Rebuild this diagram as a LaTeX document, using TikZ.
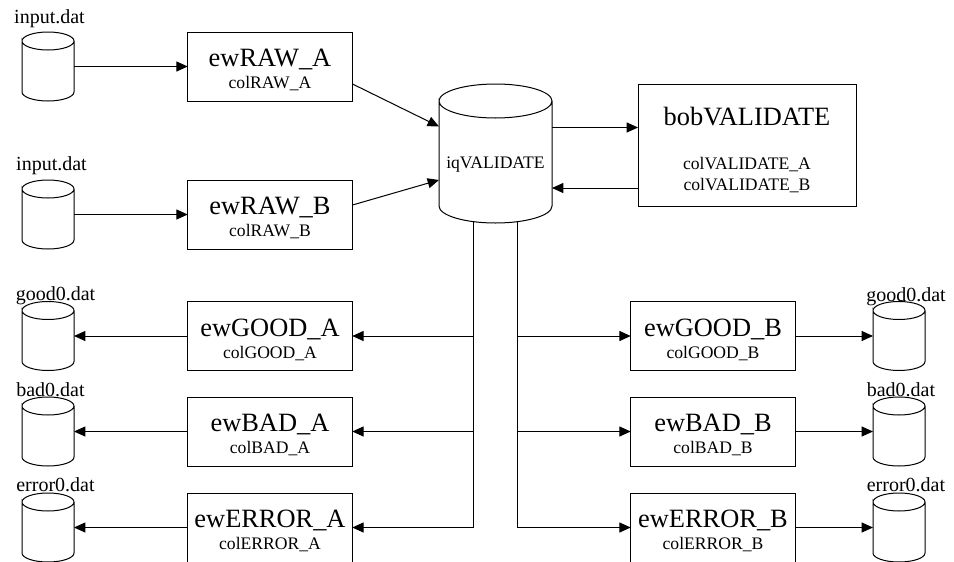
\documentclass[tikz,border=0pt]{standalone}
\usepackage{fontspec}
\setmainfont{Liberation Serif}
\usetikzlibrary{arrows.meta}
\newcommand{\bigtxt}{\fontsize{19.8}{20}\selectfont}
\newcommand{\smalltxt}{\fontsize{13.2}{16.5}\selectfont}
\newcommand{\labtxt}{\fontsize{15}{15}\selectfont}
\newcommand{\boxlabel}[2]{{\bigtxt\rule{0pt}{19.9pt}#1}\\{\smalltxt #2\rule[-3pt]{0pt}{3pt}}}
% name, x, y, half width, half height, cap radius, text
\newcommand{\drum}[7]{%
  \node[drumframe,minimum width=#4*1.5pt,minimum height=#5*1.5pt] (#1) at (#2,#3) {#7};
  \draw[line] ([yshift=-#6*0.75pt]#1.north west) arc[start angle=180,end angle=0,x radius=#4*0.75pt,y radius=#6*0.75pt]
     arc[start angle=0,end angle=-180,x radius=#4*0.75pt,y radius=#6*0.75pt]
     -- ([yshift=#6*0.75pt]#1.south west) arc[start angle=180,end angle=360,x radius=#4*0.75pt,y radius=#6*0.75pt]
     -- ([yshift=-#6*0.75pt]#1.north east);
}
\tikzset{
  x=0.75pt,y=-0.75pt,
  line/.style={draw=black,line width=0.75pt},
  arr/.style={line,-{Triangle[length=8.5pt,width=7.5pt]}},
  ewbox/.style={line,rectangle,minimum width=123.4pt,minimum height=51.75pt,inner sep=0pt,outer sep=0pt,align=center,text=black,font=\smalltxt},
  drumframe/.style={rectangle,inner sep=0pt,outer sep=0pt,font=\smalltxt},
  dat/.style={font=\labtxt,inner sep=0pt,anchor=base},
}
\begin{document}
\begin{tikzpicture}
\useasboundingbox (0,0) rectangle (954,561);
\clip (0,0) rectangle (954,561);
% stores
\drum{inA}{48}{66.5}{26}{34.5}{9}{}
\drum{inB}{48}{214.5}{26}{34.5}{9}{}
\drum{gA}{48}{336}{26}{34.5}{9}{}
\drum{bA}{48}{431.5}{26}{34.5}{9}{}
\drum{eA}{48}{527.5}{26}{34.5}{9}{}
\drum{gB}{899}{336}{26}{34.5}{9}{}
\drum{bB}{899}{431.5}{26}{34.5}{9}{}
\drum{eB}{899}{527.5}{26}{34.5}{9}{}
% file labels
\node[dat] (linA) at (49.5,23) {input.dat};
\node[dat] (linB) at (51.5,170) {input.dat};
\node[dat] (lgA) at (55.5,300.5) {good0.dat};
\node[dat] (lbA) at (50.5,396) {bad0.dat};
\node[dat] (leA) at (55.5,491) {error0.dat};
\node[dat] (lgB) at (906,301.5) {good0.dat};
\node[dat] (lbB) at (901,396) {bad0.dat};
\node[dat] (leB) at (906,491) {error0.dat};
% boxes
\node[ewbox] (rawA) at (270,66.5) {\boxlabel{ewRAW\_A}{colRAW\_A}};
\node[ewbox] (rawB) at (270,214.5) {\boxlabel{ewRAW\_B}{colRAW\_B}};
\node[ewbox] (goodA) at (270,336) {\boxlabel{ewGOOD\_A}{colGOOD\_A}};
\node[ewbox] (badA) at (270,431.5) {\boxlabel{ewBAD\_A}{colBAD\_A}};
\node[ewbox] (errA) at (270,527.5) {\boxlabel{ewERROR\_A}{colERROR\_A}};
\node[ewbox] (goodB) at (713,336) {\boxlabel{ewGOOD\_B}{colGOOD\_B}};
\node[ewbox] (badB) at (713,431.5) {\boxlabel{ewBAD\_B}{colBAD\_B}};
\node[ewbox] (errB) at (713,527.5) {\boxlabel{ewERROR\_B}{colERROR\_B}};
% queue and reader
\drum{iq}{495.5}{153.5}{56.5}{69.5}{17}{\raisebox{-10.9pt}[0pt][0pt]{iqVALIDATE}}
\node[line,rectangle,minimum width=163.5pt,minimum height=91.5pt,inner sep=0pt,outer sep=0pt,align=center,font=\fontsize{13.2}{15.75}\selectfont] (bob) at (747,145) {{\bigtxt\rule{0pt}{23pt}bobVALIDATE}\\[17.45pt]colVALIDATE\_A\\colVALIDATE\_B\rule[-3pt]{0pt}{3pt}};
% connector anchors
\coordinate (iqa) at (439,126.5);
\coordinate (iqb) at (439,180);
\coordinate (iqo) at (552,127.5);
\coordinate (iqi) at (552,188);
\coordinate (boba) at (638,127.5);
\coordinate (bobb) at (638,188);
\coordinate (rawAo) at (352.5,84);
\coordinate (rawBo) at (352.5,205);
\coordinate (busL) at (473,222);
\coordinate (busR) at (517,222);
\coordinate (jgA) at (473,336);
\coordinate (jbA) at (473,431.5);
\coordinate (jeA) at (473,527.5);
\coordinate (jgB) at (517,336);
\coordinate (jbB) at (517,431.5);
\coordinate (jeB) at (517,527.5);
% connectors
\draw[arr] (inA.east) -- (rawA.west);
\draw[arr] (inB.east) -- (rawB.west);
\draw[arr] (rawAo) -- (iqa);
\draw[arr] (rawBo) -- (iqb);
\draw[arr] (iqo) -- (boba);
\draw[arr] (bobb) -- (iqi);
\draw[line] (busL) -- (jeA);
\draw[line] (busR) -- (jeB);
\draw[arr] (jgA) -- (goodA.east);
\draw[arr] (jbA) -- (badA.east);
\draw[arr] (jeA) -- (errA.east);
\draw[arr] (jgB) -- (goodB.west);
\draw[arr] (jbB) -- (badB.west);
\draw[arr] (jeB) -- (errB.west);
\draw[arr] (goodA.west) -- (gA.east);
\draw[arr] (badA.west) -- (bA.east);
\draw[arr] (errA.west) -- (eA.east);
\draw[arr] (goodB.east) -- (gB.west);
\draw[arr] (badB.east) -- (bB.west);
\draw[arr] (errB.east) -- (eB.west);
\end{tikzpicture}
\end{document}
